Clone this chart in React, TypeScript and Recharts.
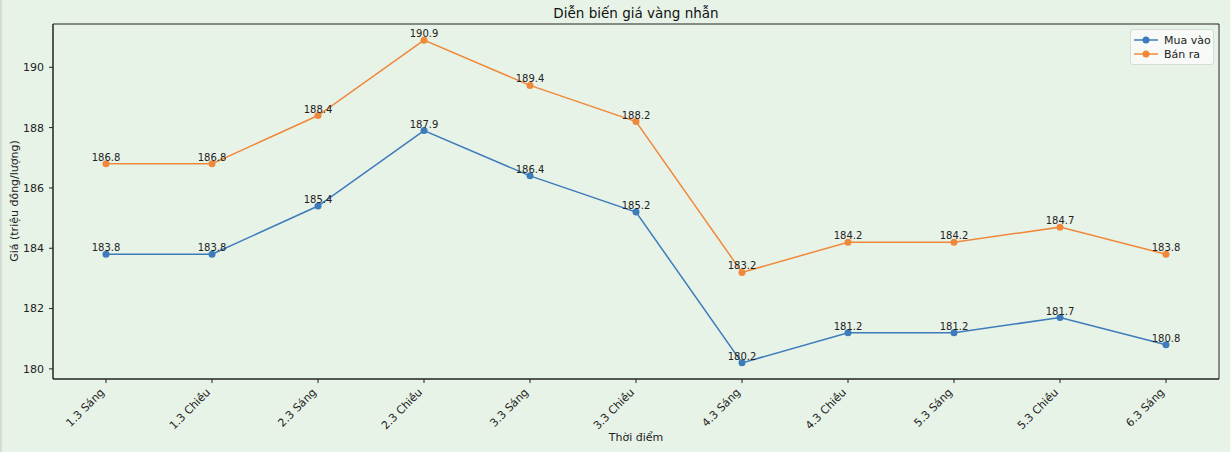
import { Legend, Line, LineChart, ReferenceArea, XAxis, YAxis } from 'recharts';

const timeLabels = [
  '1.3 Sáng',
  '1.3 Chiều',
  '2.3 Sáng',
  '2.3 Chiều',
  '3.3 Sáng',
  '3.3 Chiều',
  '4.3 Sáng',
  '4.3 Chiều',
  '5.3 Sáng',
  '5.3 Chiều',
  '6.3 Sáng',
];
const buyPrices = [183.8, 183.8, 185.4, 187.9, 186.4, 185.2, 180.2, 181.2, 181.2, 181.7, 180.8];
const sellPrices = [186.8, 186.8, 188.4, 190.9, 189.4, 188.2, 183.2, 184.2, 184.2, 184.7, 183.8];
const yTicks = [180, 182, 184, 186, 188, 190];

const X_DOMAIN: [number, number] = [-0.5, 10.5];
const Y_DOMAIN: [number, number] = [179.665, 191.435];

const BLUE = '#3d7bbb';
const ORANGE = '#f0883a';
const BG = '#e8f3e8';
const FONT = '"DejaVu Sans", sans-serif';

const data = timeLabels.map((label, i) => ({
  idx: i,
  label,
  buy: buyPrices[i],
  sell: sellPrices[i],
}));

const XTick = ({ x, y, payload }: any) => (
  <text
    transform={`translate(${x - 1},${y + 8}) rotate(-45)`}
    textAnchor="end"
    fontSize={11}
    fontFamily={FONT}
    fill="#222"
  >
    {timeLabels[payload.value]}
  </text>
);

const valueLabel = ({ x, y, value }: any) => (
  <text x={x} y={y - 3} textAnchor="middle" fontSize={10} fontFamily={FONT} fill="#222">
    {Number(value).toFixed(1)}
  </text>
);

const LegendBox = () => (
  <div
    style={{
      width: 84,
      height: 36,
      background: '#f7faf7',
      border: '1px solid #d6dcd6',
      borderRadius: 3,
      fontFamily: FONT,
      fontSize: 11,
      color: '#222',
      boxSizing: 'border-box',
      padding: '3px 0 0 3px',
    }}
  >
    {[
      { name: 'Mua vào', color: BLUE },
      { name: 'Bán ra', color: ORANGE },
    ].map((item) => (
      <div key={item.name} style={{ display: 'flex', alignItems: 'center', height: 14 }}>
        <svg width={24} height={10} style={{ marginRight: 6 }}>
          <line x1={0} y1={5} x2={24} y2={5} stroke={item.color} strokeWidth={1.5} />
          <circle cx={12} cy={5} r={3.5} fill={item.color} />
        </svg>
        <span>{item.name}</span>
      </div>
    ))}
  </div>
);

const App = () => (
  <div
    style={{
      position: 'absolute',
      left: 0,
      top: 0,
      width: 1230,
      height: 456,
      background: '#ffffff',
    }}
  >
    <div
      style={{
        position: 'absolute',
        left: 0,
        top: 0,
        width: 1230,
        height: 452,
        background: BG,
        borderLeft: '2px solid #d4dcd4',
        boxSizing: 'border-box',
      }}
    />
    <div style={{ position: 'absolute', left: 0, top: 0 }}>
      <LineChart
        width={1230}
        height={456}
        data={data}
        margin={{ top: 24, right: 11, left: 13, bottom: 17 }}
      >
        <XAxis
          dataKey="idx"
          type="number"
          domain={X_DOMAIN}
          ticks={timeLabels.map((_, i) => i)}
          interval={0}
          height={60}
          tick={<XTick />}
          tickSize={4}
          axisLine={{ stroke: '#222' }}
          tickLine={{ stroke: '#222' }}
          allowDataOverflow
        />
        <YAxis
          type="number"
          domain={Y_DOMAIN}
          ticks={yTicks}
          width={40}
          tickSize={4}
          tickMargin={5}
          tick={{ fontSize: 11, fontFamily: FONT, fill: '#222' }}
          axisLine={{ stroke: '#222' }}
          tickLine={{ stroke: '#222' }}
          allowDataOverflow
        />
        <ReferenceArea
          x1={X_DOMAIN[0]}
          x2={X_DOMAIN[1]}
          y1={Y_DOMAIN[0]}
          y2={Y_DOMAIN[1]}
          fill="none"
          stroke="#222"
          strokeWidth={1}
          ifOverflow="visible"
        />
        <Legend
          layout="vertical"
          align="center"
          verticalAlign="middle"
          content={<LegendBox />}
          wrapperStyle={{ top: 29, left: 1130, width: 84 }}
        />
        <Line
          type="linear"
          dataKey="buy"
          name="Mua vào"
          stroke={BLUE}
          strokeWidth={1.5}
          dot={{ r: 3.5, fill: BLUE, stroke: 'none' }}
          label={valueLabel}
          isAnimationActive={false}
        />
        <Line
          type="linear"
          dataKey="sell"
          name="Bán ra"
          stroke={ORANGE}
          strokeWidth={1.5}
          dot={{ r: 3.5, fill: ORANGE, stroke: 'none' }}
          label={valueLabel}
          isAnimationActive={false}
        />
      </LineChart>
    </div>
    <div
      style={{
        position: 'absolute',
        left: 53,
        width: 1166,
        top: 5,
        textAlign: 'center',
        fontFamily: FONT,
        fontSize: 13.5,
        color: '#111',
      }}
    >
      Diễn biến giá vàng nhẫn
    </div>
    <div
      style={{
        position: 'absolute',
        left: 53,
        width: 1166,
        top: 431,
        textAlign: 'center',
        fontFamily: FONT,
        fontSize: 11,
        color: '#222',
      }}
    >
      Thời điểm
    </div>
    <div
      style={{
        position: 'absolute',
        left: 14,
        top: 201,
        transform: 'translate(-50%, -50%) rotate(-90deg)',
        whiteSpace: 'nowrap',
        fontFamily: FONT,
        fontSize: 11,
        color: '#222',
      }}
    >
      Giá (triệu đồng/lượng)
    </div>
  </div>
);

export default App;
